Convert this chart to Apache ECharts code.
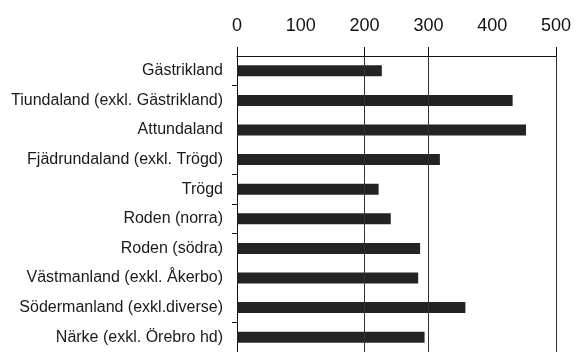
<!DOCTYPE html>
<html>
<head>
<meta charset="utf-8">
<script src="https://cdn.jsdelivr.net/npm/echarts@6/dist/echarts.min.js"></script>
<style>html,body{margin:0;padding:0;background:#fff;}#c{width:576px;height:352px;}</style>
</head>
<body>
<div id="c"></div>
<script>
const categories = [
  "Gästrikland",
  "Tiundaland (exkl. Gästrikland)",
  "Attundaland",
  "Fjädrundaland (exkl. Trögd)",
  "Trögd",
  "Roden (norra)",
  "Roden (södra)",
  "Västmanland (exkl. Åkerbo)",
  "Södermanland (exkl.diverse)",
  "Närke (exkl. Örebro hd)"
];
const values = [227, 432, 453, 318, 222, 241, 287, 284, 358, 294];
const xTickValues = [0, 200, 300, 500];
const gridValues = [200, 300, 500];
const catTickIdx = [1, 4, 5, 6, 9];

const chart = echarts.init(document.getElementById('c'), null, {renderer: 'canvas'});
chart.setOption({
  backgroundColor: '#ffffff',
  animation: false,
  grid: {left: 237, right: 20, top: 56, height: 299, containLabel: false},
  xAxis: {
    type: 'value', position: 'top', min: 0, max: 500, interval: 100,
    axisLine: {show: true, lineStyle: {color: '#111', width: 1}},
    axisTick: {show: true, length: 9, customValues: xTickValues, lineStyle: {color: '#111', width: 1}},
    axisLabel: {fontFamily: 'Liberation Sans, Arial, sans-serif', fontSize: 18, color: '#111', margin: 21},
    splitLine: {show: false}
  },
  yAxis: {
    type: 'category', inverse: true, data: categories,
    axisLine: {show: true, lineStyle: {color: '#111', width: 1}},
    axisTick: {show: true, length: 5, interval: function (i) { return catTickIdx.indexOf(i) >= 0; }, lineStyle: {color: '#111', width: 1}},
    axisLabel: {fontFamily: 'Liberation Sans, Arial, sans-serif', fontSize: 16, color: '#1a1a1a', margin: 14}
  },
  series: [{
    type: 'bar', data: values, barWidth: 11,
    itemStyle: {color: '#232323'},
    markLine: {
      silent: true, symbol: 'none', label: {show: false},
      lineStyle: {color: '#333', width: 1, type: 'solid'},
      data: gridValues.map(v => ({xAxis: v}))
    }
  }]
});
</script>
</body>
</html>
